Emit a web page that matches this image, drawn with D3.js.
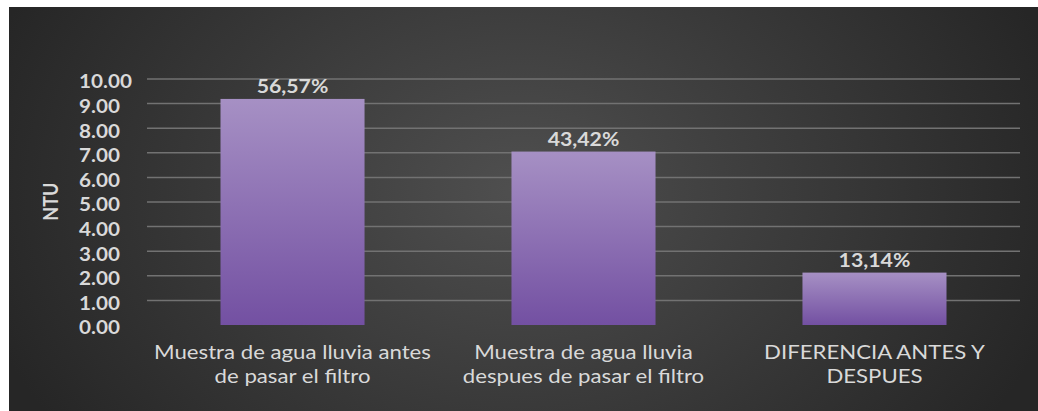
<!DOCTYPE html>
<html>
<head>
<meta charset="utf-8">
<script src="https://cdn.jsdelivr.net/npm/d3@7"></script>
<style>
  html, body { margin: 0; padding: 0; background: #ffffff; }
  svg { display: block; }
</style>
</head>
<body>
<div id="chart"></div>
<script>
// ---- data ----
const categories = [
  ["Muestra de agua lluvia antes", "de pasar el filtro"],
  ["Muestra de agua lluvia", "despues de pasar el filtro"],
  ["DIFERENCIA ANTES Y", "DESPUES"]
];
const categoryKeys = ["antes", "despues", "diferencia"];
const values = [9.19, 7.05, 2.13];
const percentLabels = ["56,57%", "43,42%", "13,14%"];
const tickValues = [0, 1, 2, 3, 4, 5, 6, 7, 8, 9, 10];
const axisTitle = "NTU";

// ---- layout ----
const W = 1038, H = 411;
const svg = d3.select("#chart").append("svg").attr("width", W).attr("height", H);
const defs = svg.append("defs");

const bg = defs.append("radialGradient").attr("id", "bg")
  .attr("gradientUnits", "userSpaceOnUse")
  .attr("cx", 520).attr("cy", 190).attr("r", 560)
  .attr("gradientTransform", "translate(520,190) scale(1,0.75) translate(-520,-190)");
bg.append("stop").attr("offset", "0%").attr("stop-color", "#4f4f4f");
bg.append("stop").attr("offset", "100%").attr("stop-color", "#262626");

const barGrad = defs.append("linearGradient").attr("id", "bar")
  .attr("x1", 0).attr("y1", 0).attr("x2", 0).attr("y2", 1);
barGrad.append("stop").attr("offset", "0%").attr("stop-color", "#a690c4");
barGrad.append("stop").attr("offset", "100%").attr("stop-color", "#7350a2");

svg.append("rect").attr("x", 0).attr("y", 0).attr("width", W).attr("height", H).attr("fill", "#ffffff");
svg.append("rect").attr("x", 9).attr("y", 7).attr("width", W - 9).attr("height", H - 7).attr("fill", "url(#bg)");

const y = d3.scaleLinear().domain([0, 10]).range([325, 79]);
const x = d3.scaleBand().domain(categoryKeys).range([147, 1020])
  .paddingInner(0.505).paddingOuter(0.2526);

const txt = "#d9d9d9";
const font = "Lato, 'Open Sans', sans-serif";
const stretch = (cx, s) => `translate(${cx},0) scale(${s},1) translate(${-cx},0)`;

// gridlines
svg.append("g").selectAll("line").data(tickValues.filter(d => d > 0)).join("line")
  .attr("x1", 147).attr("x2", 1020)
  .attr("y1", d => y(d)).attr("y2", d => y(d))
  .attr("stroke", "#727272").attr("stroke-width", 1.5);

// tick labels
svg.append("g").selectAll("text").data(tickValues).join("text")
  .attr("x", 79).attr("y", d => y(d) + 9.5)
  .attr("text-anchor", "start")
  .attr("font-family", font).attr("font-weight", "bold").attr("font-size", 18)
  .attr("fill", txt)
  .attr("transform", stretch(79, 1.15))
  .text(d => d3.format(".2f")(d));

// axis title
svg.append("text")
  .attr("transform", "translate(58,201.7) rotate(-90) scale(1,1.15)")
  .attr("text-anchor", "middle")
  .attr("font-family", font).attr("font-weight", "bold").attr("font-size", 18)
  .attr("fill", txt)
  .text(axisTitle);

// bars
svg.append("g").selectAll("rect").data(values).join("rect")
  .attr("x", (d, i) => x(categoryKeys[i]))
  .attr("width", x.bandwidth())
  .attr("y", d => y(d))
  .attr("height", d => y(0) - y(d))
  .attr("fill", "url(#bar)");

// value labels
svg.append("g").selectAll("text").data(values).join("text")
  .attr("x", (d, i) => x(categoryKeys[i]) + x.bandwidth() / 2)
  .attr("y", d => y(d) - 6)
  .attr("text-anchor", "middle")
  .attr("font-family", font).attr("font-weight", "bold").attr("font-size", 19)
  .attr("fill", txt)
  .attr("transform", (d, i) => stretch(x(categoryKeys[i]) + x.bandwidth() / 2, 1.12))
  .text((d, i) => percentLabels[i]);

// category labels
const cat = svg.append("g").selectAll("text").data(categories).join("text")
  .attr("text-anchor", "middle")
  .attr("font-family", font).attr("font-size", 20)
  .attr("fill", txt)
  .attr("transform", (d, i) => stretch(x(categoryKeys[i]) + x.bandwidth() / 2, 1.11));
cat.selectAll("tspan").data((d, i) => d.map(s => ({ s, i }))).join("tspan")
  .attr("x", d => x(categoryKeys[d.i]) + x.bandwidth() / 2)
  .attr("y", (d, j) => 359 + j * 24.5)
  .text(d => d.s);
</script>
</body>
</html>
